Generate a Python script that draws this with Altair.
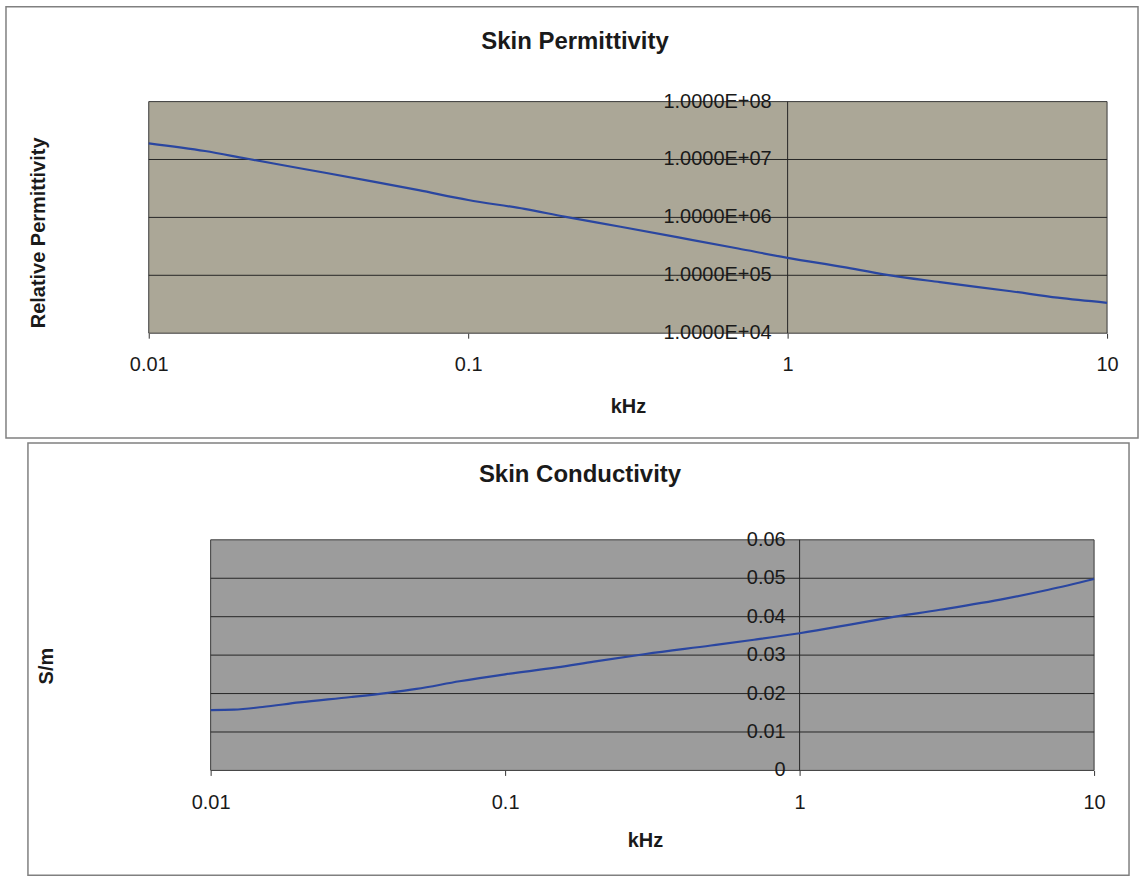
import altair as alt
import pandas as pd

# ---------------- data ----------------
freq_perm = [0.01, 0.015, 0.02, 0.03, 0.05, 0.07, 0.1, 0.15, 0.2, 0.3, 0.5, 0.7,
             1, 1.5, 2, 3, 5, 7, 10]
perm = [1.9e7, 1.4e7, 1.05e7, 7.0e6, 4.2e6, 2.95e6, 2.0e6, 1.4e6, 1.03e6, 6.9e5,
        4.1e5, 2.9e5, 2.0e5, 1.38e5, 1.04e5, 7.6e4, 5.3e4, 4.1e4, 3.35e4]

freq_cond = [0.01, 0.012, 0.015, 0.02, 0.03, 0.04, 0.05, 0.07, 0.1, 0.15, 0.2, 0.3,
             0.5, 0.7, 1, 1.5, 2, 3, 5, 7, 10]
cond = [0.0157, 0.0158, 0.0165, 0.0177, 0.0191, 0.0202, 0.0212, 0.0232, 0.0250,
        0.0268, 0.0283, 0.0303, 0.0325, 0.0340, 0.0357, 0.0380, 0.0397, 0.0418,
        0.0447, 0.0470, 0.0498]

x_ticks = [0.01, 0.1, 1, 10]
perm_ticks = [1e4, 1e5, 1e6, 1e7, 1e8]
perm_labels = ["1.0000E+04", "1.0000E+05", "1.0000E+06", "1.0000E+07", "1.0000E+08"]
cond_ticks = [0, 0.01, 0.02, 0.03, 0.04, 0.05, 0.06]
cond_labels = ["0", "0.01", "0.02", "0.03", "0.04", "0.05", "0.06"]

# ---------------- styles ----------------
FONT = "Liberation Sans"
TOP_BG = "#aba797"
BOT_BG = "#9c9c9c"
GRID = "#262626"
LINE = "#2a46a0"
BOX = "#808080"
TXT = "#1a1a1a"


def x_axis(title_x=None, title_y=73, pad=26):
    kw = dict(values=x_ticks, format="~g", grid=False, domain=False, tickSize=5,
              tickColor="#333333", labelFontSize=20, labelColor=TXT,
              labelBaseline="middle", labelPadding=pad, labelFlush=False,
              labelOverlap=False, title="kHz", titleFontSize=20,
              titleFontWeight="bold", titleColor=TXT, titleBaseline="middle",
              titleAlign="center", titleY=title_y)
    if title_x is not None:
        kw["titleX"] = title_x
    return alt.Axis(**kw)


def y_axis(title, title_x, title_y):
    return alt.Axis(labels=False, ticks=False, domain=False, grid=False,
                    title=title, titleFontSize=20, titleFontWeight="bold",
                    titleColor=TXT, titleX=title_x, titleY=title_y,
                    titleAlign="center", titleBaseline="middle", titleAngle=-90)


# ---------------- top chart: permittivity ----------------
xs_t = alt.Scale(type="log", domain=[0.01, 10], nice=False)
ys_t = alt.Scale(type="log", domain=[1e4, 1e8], nice=False)
xa_t = x_axis(title_y=73, pad=26)
ya_t = y_axis("Relative Permittivity", -110, 131)


def X_t(f="x"):
    return alt.X(f"{f}:Q", scale=xs_t, axis=xa_t)


def Y_t(f="y"):
    return alt.Y(f"{f}:Q", scale=ys_t, axis=ya_t)


bg_t = alt.Chart(pd.DataFrame({"x": [0.01], "x2": [10], "y": [1e4], "y2": [1e8]})).mark_rect(
    fill=TOP_BG, stroke="#3a3a3a", strokeWidth=1
).encode(x=X_t(), x2="x2:Q", y=Y_t(), y2="y2:Q")

grid_t = alt.Chart(pd.DataFrame({"y": perm_ticks[1:-1], "x": [0.01] * 3, "x2": [10] * 3})).mark_rule(
    color=GRID, strokeWidth=1
).encode(x=X_t(), x2="x2:Q", y=Y_t())

vline_t = alt.Chart(pd.DataFrame({"x": [1], "y": [1e4], "y2": [1e8]})).mark_rule(
    color=GRID, strokeWidth=1
).encode(x=X_t(), y=Y_t(), y2="y2:Q")

lab_t = alt.Chart(pd.DataFrame({"x": [1] * 5, "y": perm_ticks, "label": perm_labels})).mark_text(
    align="right", baseline="middle", dx=-16, fontSize=20, color=TXT
).encode(x=X_t(), y=Y_t(), text="label:N")

line_t = alt.Chart(pd.DataFrame({"x": freq_perm, "y": perm})).mark_line(
    color=LINE, strokeWidth=2.2, interpolate="monotone"
).encode(x=X_t(), y=Y_t())

box_t = alt.Chart(pd.DataFrame({"a": [0]})).mark_rect(
    fillOpacity=0, stroke=BOX, strokeWidth=1.5
).encode(x=alt.value(-143), x2=alt.value(991), y=alt.value(-95), y2=alt.value(337))

title_t = alt.Chart(pd.DataFrame({"a": [0]})).mark_text(
    text="Skin Permittivity", fontSize=24, fontWeight="bold", color=TXT,
    align="center", baseline="middle"
).encode(x=alt.value(427), y=alt.value(-60))

top = alt.layer(bg_t, grid_t, vline_t, lab_t, line_t, box_t, title_t).properties(
    width=960, height=232
)

# ---------------- bottom chart: conductivity ----------------
# x domain extended on the left so that 0.01 kHz sits 62 px inside the view
xs_b = alt.Scale(type="log", domain=[0.006163, 10], nice=False)
ys_b = alt.Scale(type="linear", domain=[0, 0.06], nice=False, zero=False)
xa_b = x_axis(title_x=497, title_y=70, pad=27)
ya_b = y_axis("S/m", -102, 126)


def X_b(f="x"):
    return alt.X(f"{f}:Q", scale=xs_b, axis=xa_b)


def Y_b(f="y"):
    return alt.Y(f"{f}:Q", scale=ys_b, axis=ya_b)


bg_b = alt.Chart(pd.DataFrame({"x": [0.01], "x2": [10], "y": [0.0], "y2": [0.06]})).mark_rect(
    fill=BOT_BG, stroke="#3a3a3a", strokeWidth=1
).encode(x=X_b(), x2="x2:Q", y=Y_b(), y2="y2:Q")

grid_b = alt.Chart(pd.DataFrame({"y": cond_ticks[1:-1], "x": [0.01] * 5, "x2": [10] * 5})).mark_rule(
    color=GRID, strokeWidth=1
).encode(x=X_b(), x2="x2:Q", y=Y_b())

vline_b = alt.Chart(pd.DataFrame({"x": [1], "y": [0.0], "y2": [0.06]})).mark_rule(
    color=GRID, strokeWidth=1
).encode(x=X_b(), y=Y_b(), y2="y2:Q")

lab_b = alt.Chart(pd.DataFrame({"x": [1] * 7, "y": cond_ticks, "label": cond_labels})).mark_text(
    align="right", baseline="middle", dx=-14, fontSize=20, color=TXT
).encode(x=X_b(), y=Y_b(), text="label:N")

line_b = alt.Chart(pd.DataFrame({"x": freq_cond, "y": cond})).mark_line(
    color=LINE, strokeWidth=2.2, interpolate="monotone"
).encode(x=X_b(), y=Y_b())

box_b = alt.Chart(pd.DataFrame({"a": [0]})).mark_rect(
    fillOpacity=0, stroke=BOX, strokeWidth=1.5
).encode(x=alt.value(-121), x2=alt.value(982), y=alt.value(-97), y2=alt.value(336))

title_b = alt.Chart(pd.DataFrame({"a": [0]})).mark_text(
    text="Skin Conductivity", fontSize=24, fontWeight="bold", color=TXT,
    align="center", baseline="middle"
).encode(x=alt.value(432), y=alt.value(-65))

bottom = alt.layer(bg_b, grid_b, vline_b, lab_b, line_b, box_b, title_b).properties(
    width=947, height=231
)

chart = alt.vconcat(top, bottom, spacing=3).properties(
    padding={"left": 5, "top": 5, "right": 1, "bottom": 4}
).configure(font=FONT).configure_view(strokeWidth=0)

chart.save("out.html", embed_options={"renderer": "svg", "actions": False})
